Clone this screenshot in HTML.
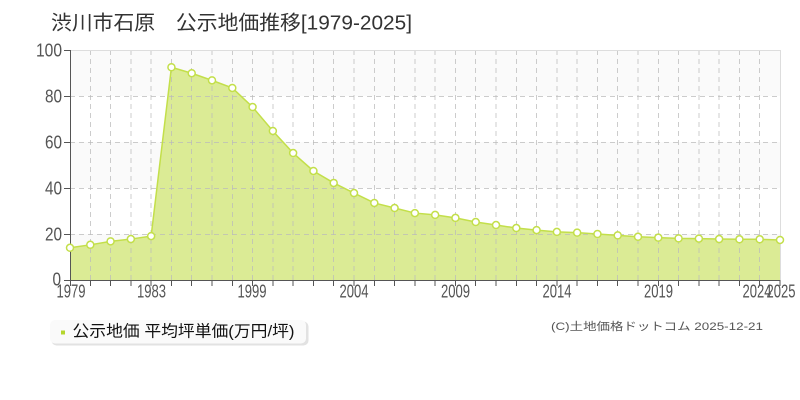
<!DOCTYPE html>
<html><head><meta charset="utf-8"><style>
html,body{margin:0;padding:0;background:#fff;}
svg{display:block;}
text{font-family:"Liberation Sans","Noto Sans CJK JP",sans-serif;}
</style></head><body>
<svg width="800" height="400" viewBox="0 0 800 400" xmlns="http://www.w3.org/2000/svg">
<rect x="0" y="0" width="800" height="400" fill="#fff"/>
<text x="51" y="29.5" font-size="20" fill="#333" textLength="361" lengthAdjust="spacingAndGlyphs">渋川市石原　公示地価推移[1979-2025]</text>
<!-- bands -->
<rect x="70" y="50" width="710" height="46" fill="#fafafa"/>
<rect x="70" y="142" width="710" height="46" fill="#fafafa"/>
<rect x="70" y="234" width="710" height="46" fill="#fafafa"/>
<!-- area -->
<polygon fill="#dbeb95" points="70,280 70,247.8 90.29,244.81 110.57,241.36 130.86,239.06 151.14,236.07 171.43,67.25 191.71,73.23 212,80.36 232.29,87.95 252.57,107.04 272.86,130.96 293.14,153.04 313.43,170.98 333.71,182.94 354,193.06 374.29,202.95 394.57,208.01 414.86,213.07 435.14,214.91 455.43,217.9 475.71,222.04 496,225.03 516.29,228.02 536.57,230.09 556.86,231.93 577.14,232.62 597.43,234 617.71,235.38 638,236.76 658.29,237.68 678.57,238.37 698.86,238.6 719.14,239.06 739.43,239.29 759.71,239.29 780,239.98 780,280"/>
<!-- grid -->
<g stroke="#bbb" stroke-opacity="0.75" stroke-width="1" stroke-dasharray="5,4" fill="none">
<path d="M70,96.5H780M70,142.5H780M70,188.5H780M70,234.5H780"/>
<path d="M90.5,50V280M110.5,50V280M131,50V280M151,50V280M171.5,50V280M191.5,50V280M212,50V280M232.5,50V280M252.5,50V280M273,50V280M293,50V280M313.5,50V280M333.5,50V280M354,50V280M374.5,50V280M394.5,50V280M415,50V280M435,50V280M455.5,50V280M475.5,50V280M496,50V280M516.5,50V280M536.5,50V280M557,50V280M577,50V280M597.5,50V280M617.5,50V280M638,50V280M658.5,50V280M678.5,50V280M699,50V280M719,50V280M739.5,50V280M759.5,50V280"/>
</g>
<!-- plot border -->
<path d="M70,50.5H780.5V280" stroke="#ddd" stroke-width="1" fill="none"/>
<!-- line -->
<polyline fill="none" stroke="#c3df4a" stroke-width="1.5" points="70,247.8 90.29,244.81 110.57,241.36 130.86,239.06 151.14,236.07 171.43,67.25 191.71,73.23 212,80.36 232.29,87.95 252.57,107.04 272.86,130.96 293.14,153.04 313.43,170.98 333.71,182.94 354,193.06 374.29,202.95 394.57,208.01 414.86,213.07 435.14,214.91 455.43,217.9 475.71,222.04 496,225.03 516.29,228.02 536.57,230.09 556.86,231.93 577.14,232.62 597.43,234 617.71,235.38 638,236.76 658.29,237.68 678.57,238.37 698.86,238.6 719.14,239.06 739.43,239.29 759.71,239.29 780,239.98"/>
<!-- axes -->
<g stroke="#555" stroke-width="1" fill="none">
<path d="M70.5,50V280.5"/>
<path d="M64,50.5H70M64,96.5H70M64,142.5H70M64,188.5H70M64,234.5H70M64,280.5H70"/>
<path d="M70,280.5H780"/>
<path d="M70.5,280V286M90.5,280V286M110.5,280V286M131,280V286M151,280V286M171.5,280V286M191.5,280V286M212,280V286M232.5,280V286M252.5,280V286M273,280V286M293,280V286M313.5,280V286M333.5,280V286M354,280V286M374.5,280V286M394.5,280V286M415,280V286M435,280V286M455.5,280V286M475.5,280V286M496,280V286M516.5,280V286M536.5,280V286M557,280V286M577,280V286M597.5,280V286M617.5,280V286M638,280V286M658.5,280V286M678.5,280V286M699,280V286M719,280V286M739.5,280V286M759.5,280V286M780,280V286"/>
</g>
<!-- markers -->
<g fill="#fff" stroke="#c3df4a" stroke-width="1.5">
<circle cx="70" cy="247.8" r="3.5"/><circle cx="90.29" cy="244.81" r="3.5"/><circle cx="110.57" cy="241.36" r="3.5"/><circle cx="130.86" cy="239.06" r="3.5"/><circle cx="151.14" cy="236.07" r="3.5"/><circle cx="171.43" cy="67.25" r="3.5"/><circle cx="191.71" cy="73.23" r="3.5"/><circle cx="212" cy="80.36" r="3.5"/><circle cx="232.29" cy="87.95" r="3.5"/><circle cx="252.57" cy="107.04" r="3.5"/><circle cx="272.86" cy="130.96" r="3.5"/><circle cx="293.14" cy="153.04" r="3.5"/><circle cx="313.43" cy="170.98" r="3.5"/><circle cx="333.71" cy="182.94" r="3.5"/><circle cx="354" cy="193.06" r="3.5"/><circle cx="374.29" cy="202.95" r="3.5"/><circle cx="394.57" cy="208.01" r="3.5"/><circle cx="414.86" cy="213.07" r="3.5"/><circle cx="435.14" cy="214.91" r="3.5"/><circle cx="455.43" cy="217.9" r="3.5"/><circle cx="475.71" cy="222.04" r="3.5"/><circle cx="496" cy="225.03" r="3.5"/><circle cx="516.29" cy="228.02" r="3.5"/><circle cx="536.57" cy="230.09" r="3.5"/><circle cx="556.86" cy="231.93" r="3.5"/><circle cx="577.14" cy="232.62" r="3.5"/><circle cx="597.43" cy="234" r="3.5"/><circle cx="617.71" cy="235.38" r="3.5"/><circle cx="638" cy="236.76" r="3.5"/><circle cx="658.29" cy="237.68" r="3.5"/><circle cx="678.57" cy="238.37" r="3.5"/><circle cx="698.86" cy="238.6" r="3.5"/><circle cx="719.14" cy="239.06" r="3.5"/><circle cx="739.43" cy="239.29" r="3.5"/><circle cx="759.71" cy="239.29" r="3.5"/><circle cx="780" cy="239.98" r="3.5"/>
</g>
<!-- y labels -->
<g font-size="18" fill="#555" text-anchor="end" lengthAdjust="spacingAndGlyphs">
<text x="62" y="56.5" textLength="26" lengthAdjust="spacingAndGlyphs">100</text>
<text x="62" y="102.5" textLength="17" lengthAdjust="spacingAndGlyphs">80</text>
<text x="62" y="148.5" textLength="17" lengthAdjust="spacingAndGlyphs">60</text>
<text x="62" y="194.5" textLength="17" lengthAdjust="spacingAndGlyphs">40</text>
<text x="62" y="240.5" textLength="17" lengthAdjust="spacingAndGlyphs">20</text>
<text x="61" y="285.5" textLength="8.5" lengthAdjust="spacingAndGlyphs">0</text>
</g>
<!-- x labels -->
<g font-size="18" fill="#555" text-anchor="middle">
<text x="71" y="297.5" textLength="29" lengthAdjust="spacingAndGlyphs">1979</text>
<text x="151.5" y="297.5" textLength="29" lengthAdjust="spacingAndGlyphs">1983</text>
<text x="252" y="297.5" textLength="29" lengthAdjust="spacingAndGlyphs">1999</text>
<text x="354" y="297.5" textLength="29" lengthAdjust="spacingAndGlyphs">2004</text>
<text x="455.5" y="297.5" textLength="29" lengthAdjust="spacingAndGlyphs">2009</text>
<text x="557" y="297.5" textLength="29" lengthAdjust="spacingAndGlyphs">2014</text>
<text x="658.5" y="297.5" textLength="29" lengthAdjust="spacingAndGlyphs">2019</text>
<text x="757" y="297.5" textLength="29" lengthAdjust="spacingAndGlyphs">2024</text>
<text x="781" y="297.5" textLength="29" lengthAdjust="spacingAndGlyphs">2025</text>
</g>
<!-- legend -->
<rect x="51.5" y="321.5" width="257" height="24" rx="5" fill="#e2e2e2"/>
<rect x="50" y="320" width="256" height="23.5" rx="5" fill="#fafafa"/>
<rect x="61" y="330.5" width="4" height="4" fill="#b5d62e"/>
<text x="72.5" y="336.5" font-size="16" fill="#111" textLength="222" lengthAdjust="spacingAndGlyphs">公示地価 平均坪単価(万円/坪)</text>
<!-- copyright -->
<text x="551" y="330" font-size="11" fill="#555" textLength="212" lengthAdjust="spacingAndGlyphs">(C)土地価格ドットコム 2025-12-21</text>
</svg>
</body></html>
